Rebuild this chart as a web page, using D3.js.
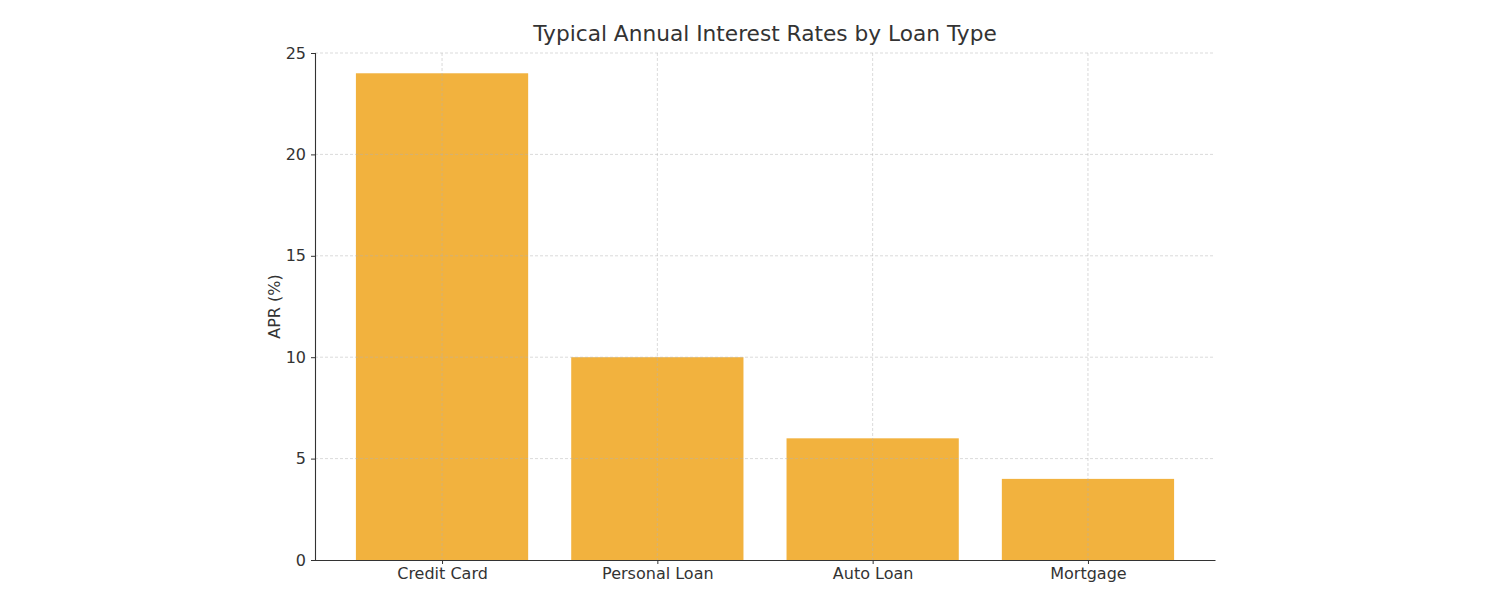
<!DOCTYPE html>
<html>
<head>
<meta charset="utf-8">
<script src="https://cdn.jsdelivr.net/npm/d3@7"></script>
<style>
  body { margin: 0; background: #fff; }
  svg text { font-family: "DejaVu Sans", sans-serif; fill: #333; }
</style>
</head>
<body>
<div id="chart"></div>
<script>
// Datos
const loanTypes = ["Credit Card", "Personal Loan", "Auto Loan", "Mortgage"];
const aprValues = [24, 10, 6, 4];
const yTicks = [0, 5, 10, 15, 20, 25];

const WIDTH = 1486;
const HEIGHT = 596;
const margin = { top: 53, right: 271, bottom: 36, left: 315 };

const width = WIDTH - margin.left - margin.right;
const height = HEIGHT - margin.top - margin.bottom;

const svg = d3.select("#chart")
  .append("svg")
  .attr("width", WIDTH)
  .attr("height", HEIGHT);

const g = svg.append("g")
  .attr("transform", `translate(${margin.left}, ${margin.top})`);

// Escalas (estilo matplotlib: barras de 0.8 con margen 5%)
const x = d3.scaleLinear()
  .domain([-0.59, loanTypes.length - 1 + 0.59])
  .range([0, width]);

const y = d3.scaleLinear()
  .domain([0, 25])
  .range([height, 0]);

// Barras
g.append("g")
  .selectAll("rect")
  .data(loanTypes)
  .join("rect")
  .attr("x", (d, i) => x(i - 0.4))
  .attr("width", x(0.4) - x(-0.4))
  .attr("y", (d, i) => y(aprValues[i]))
  .attr("height", (d, i) => y(0) - y(aprValues[i]))
  .attr("fill", "#f2b23e");

// Rejilla
const grid = g.append("g").attr("class", "grid");
grid.selectAll("line.h")
  .data(yTicks.slice(1))
  .join("line")
  .attr("class", "h")
  .attr("x1", 0).attr("x2", width)
  .attr("y1", d => y(d)).attr("y2", d => y(d))
  .attr("stroke", "#b0b0b0")
  .attr("stroke-opacity", 0.6)
  .attr("stroke-dasharray", "3,2")
  .attr("stroke-width", 0.8);
grid.selectAll("line.v")
  .data(loanTypes)
  .join("line")
  .attr("class", "v")
  .attr("x1", (d, i) => x(i)).attr("x2", (d, i) => x(i))
  .attr("y1", 0).attr("y2", height)
  .attr("stroke", "#b0b0b0")
  .attr("stroke-opacity", 0.6)
  .attr("stroke-dasharray", "3,2")
  .attr("stroke-width", 0.8);

// Eje Y
const yAxis = g.append("g")
  .call(d3.axisLeft(y).tickValues(yTicks).tickSize(4).tickPadding(5));
yAxis.select(".domain").attr("stroke", "#333").attr("stroke-width", 1.1);
yAxis.selectAll(".tick line").attr("stroke", "#333");
yAxis.selectAll(".tick text").attr("font-size", "16px").attr("fill", "#222");

// Eje X
const xAxis = g.append("g")
  .attr("transform", `translate(0, ${height})`)
  .call(d3.axisBottom(x)
    .tickValues(d3.range(loanTypes.length))
    .tickFormat(i => loanTypes[i])
    .tickSize(4).tickSizeOuter(0).tickPadding(4));
xAxis.select(".domain").attr("stroke", "#333").attr("stroke-width", 1.1);
xAxis.selectAll(".tick line").attr("stroke", "#333");
xAxis.selectAll(".tick text").attr("font-size", "16px").attr("fill", "#222");

// Título
svg.append("text")
  .attr("x", margin.left + width / 2)
  .attr("y", 41)
  .attr("text-anchor", "middle")
  .attr("font-size", "21.7px")
  .text("Typical Annual Interest Rates by Loan Type");

// Etiqueta eje Y
svg.append("text")
  .attr("transform", `translate(280, ${margin.top + height / 2}) rotate(-90)`)
  .attr("text-anchor", "middle")
  .attr("font-size", "16px")
  .text("APR (%)");
</script>
</body>
</html>
